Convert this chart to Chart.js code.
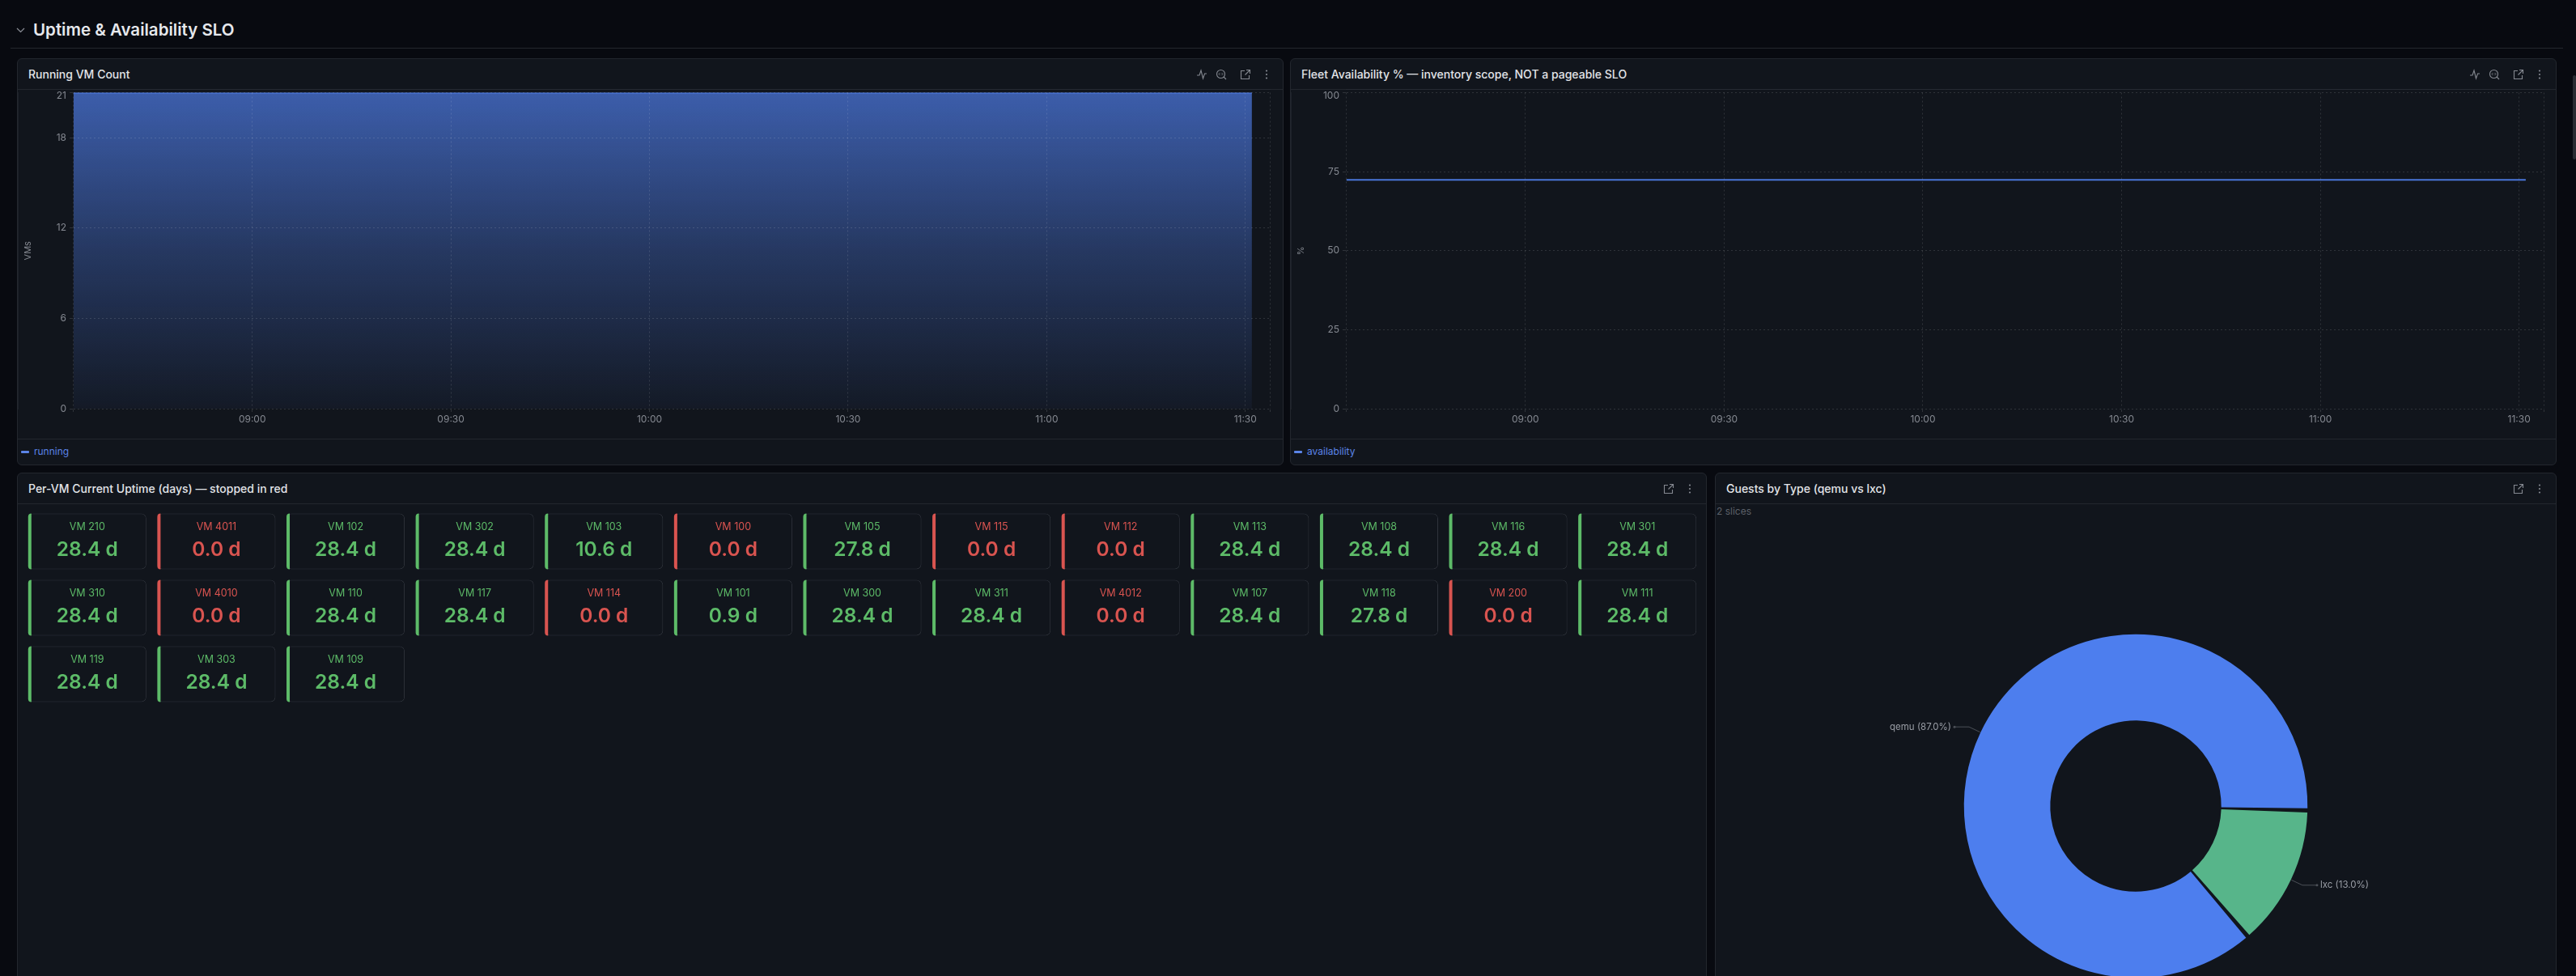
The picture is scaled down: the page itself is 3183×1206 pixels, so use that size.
<!DOCTYPE html>
<html>
<head>
<meta charset="utf-8">
<title>Uptime & Availability SLO</title>
<script src="https://cdn.jsdelivr.net/npm/chart.js@4/dist/chart.umd.min.js"></script>
<style>
  html, body { margin: 0; width: 3183px; height: 1206px; overflow: hidden; background: #080a10; font-family: Inter, sans-serif; }
  .section-title { position: absolute; left: 41px; top: 24px; font-size: 20.5px; line-height: 26px; font-weight: 600; color: #e6e8ec; }
  .chevron { position: absolute; left: 20px; top: 32px; }
  .section-line { position: absolute; left: 13px; top: 59px; width: 3154px; height: 1px; background: #24272d; }
  .scrollbar { position: absolute; left: 3179px; top: 93px; width: 4px; height: 104px; background: #2a2d33; border-radius: 2px; }
  .panel { position: absolute; box-sizing: border-box; background: #11151c; border: 1px solid #23272e; border-radius: 6px; }
  .panel-header { position: absolute; left: 0; right: 0; top: 0; height: 37px; border-bottom: 1px solid #23272e; }
  .panel-title { position: absolute; left: 13px; top: 0; line-height: 37px; font-size: 14px; font-weight: 500; color: #e2e4e8; white-space: nowrap; }
  .panel-icon { position: absolute; top: 12px; width: 14px; height: 14px; }
  .legend-row { position: absolute; left: 0; right: 0; bottom: 0; height: 31px; border-top: 1px solid #23272e; }
  .legend-dash { position: absolute; left: 4px; top: 14px; width: 10px; height: 3px; border-radius: 1px; background: #5b84e8; }
  .legend-text { position: absolute; left: 20px; top: 0; line-height: 30px; font-size: 12px; color: #5b84e8; }
  .slice-count { position: absolute; left: 1px; top: 38px; line-height: 18px; font-size: 12px; color: #5c6068; }
  .chart-box { position: absolute; }
</style>
</head>
<body>
<svg class="chevron" width="11" height="10" viewBox="0 0 11 10"><path d="M1 3 L5.5 7.5 L10 3" fill="none" stroke="#8b8f97" stroke-width="1.2"/></svg>
<div class="section-title">Uptime &amp; Availability SLO</div>
<div class="section-line"></div>
<div class="scrollbar"></div>

<div class="panel" style="left:21px;top:72px;width:1565px;height:503px">
  <div class="panel-header"><div class="panel-title">Running VM Count</div><span data-icons="4"></span></div>
  <div class="legend-row"><div class="legend-dash"></div><div class="legend-text">running</div></div>
</div>
<div class="panel" style="left:1594px;top:72px;width:1565px;height:503px">
  <div class="panel-header"><div class="panel-title">Fleet Availability % — inventory scope, NOT a pageable SLO</div><span data-icons="4"></span></div>
  <div class="legend-row"><div class="legend-dash"></div><div class="legend-text">availability</div></div>
</div>
<div class="panel" style="left:21px;top:584px;width:2088px;height:760px">
  <div class="panel-header"><div class="panel-title">Per-VM Current Uptime (days) — stopped in red</div><span data-icons="2"></span></div>
</div>
<div class="panel" style="left:2119px;top:584px;width:1040px;height:800px">
  <div class="panel-header"><div class="panel-title">Guests by Type (qemu vs lxc)</div><span data-icons="2"></span></div>
  <div class="slice-count">2 slices</div>
</div>

<div class="chart-box" style="left:22px;top:110px;width:1563px;height:434px"><canvas id="runningChart"></canvas></div>
<div class="chart-box" style="left:1595px;top:110px;width:1563px;height:434px"><canvas id="availabilityChart"></canvas></div>
<div class="chart-box" style="left:28px;top:628px;width:2075px;height:246px"><canvas id="uptimeChart"></canvas></div>
<div class="chart-box" style="left:2120px;top:622px;width:1038px;height:748px"><canvas id="guestsChart"></canvas></div>

<script>
// Datos
const sampleTimes = ['08:33', '09:00', '09:30', '10:00', '10:30', '11:00', '11:30', '11:31'];
const runningVMs = [21, 21, 21, 21, 21, 21, 21, 21];
const availabilityPct = [72.4, 72.4, 72.4, 72.4, 72.4, 72.4, 72.4, 72.4];
const timeTicks = ['09:00', '09:30', '10:00', '10:30', '11:00', '11:30'];
const runningTicks = [0, 6, 12, 18, 21];
const availabilityTicks = [0, 25, 50, 75, 100];

const vmNames = [
  'VM 210', 'VM 4011', 'VM 102', 'VM 302', 'VM 103', 'VM 100', 'VM 105', 'VM 115', 'VM 112', 'VM 113', 'VM 108', 'VM 116', 'VM 301',
  'VM 310', 'VM 4010', 'VM 110', 'VM 117', 'VM 114', 'VM 101', 'VM 300', 'VM 311', 'VM 4012', 'VM 107', 'VM 118', 'VM 200', 'VM 111',
  'VM 119', 'VM 303', 'VM 109'
];
const vmUptimeDays = [
  28.4, 0.0, 28.4, 28.4, 10.6, 0.0, 27.8, 0.0, 0.0, 28.4, 28.4, 28.4, 28.4,
  28.4, 0.0, 28.4, 28.4, 0.0, 0.9, 28.4, 28.4, 0.0, 28.4, 27.8, 0.0, 28.4,
  28.4, 28.4, 28.4
];

const guestTypes = ['lxc', 'qemu'];
const guestShares = [13.0, 87.0];

const COLORS = {
  panel: '#11151c',
  axis: '#2a2e36',
  grid: 'rgba(255,255,255,0.13)',
  tick: '#858991',
  blue: '#4f7de8',
  lineDim: '#4a76d8',
  green: '#5dbb68',
  red: '#d95450',
  cardBorder: '#30343c',
  donutBlue: '#4d7eee',
  donutGreen: '#57b58a',
  leader: '#4c5058',
  leaderText: '#9a9ea6'
};
const FONT = 'Inter, sans-serif';
const COLS_PER_ROW = 13;

Chart.defaults.font.family = FONT;
Chart.defaults.animation = false;

const toMinutes = t => {
  const [h, m] = t.split(':').map(Number);
  return h * 60 + m;
};
const toClock = min => {
  const h = Math.floor(min / 60);
  const m = min % 60;
  return String(h).padStart(2, '0') + ':' + String(m).padStart(2, '0');
};

// Iconos de la cabecera de cada panel
const ICONS = [
  '<path d="M1 8 L4 8 L6 2 L8.5 12 L10.5 6 L13 6" fill="none" stroke="#858991" stroke-width="1.1"/>',
  '<circle cx="6.5" cy="6.5" r="5" fill="none" stroke="#858991" stroke-width="1.1"/><path d="M10 10 L13 13" stroke="#858991" stroke-width="1.1"/><path d="M5.5 5 L4 6.5 L5.5 8 M7.5 5 L9 6.5 L7.5 8" fill="none" stroke="#858991" stroke-width="0.9"/>',
  '<path d="M6 2.5 H1.5 V12.5 H11.5 V8 M8 1.5 H12.5 V6 M12.5 1.5 L6.5 7.5" fill="none" stroke="#858991" stroke-width="1.1"/>',
  '<circle cx="7" cy="2.5" r="1.1" fill="#858991"/><circle cx="7" cy="7" r="1.1" fill="#858991"/><circle cx="7" cy="11.5" r="1.1" fill="#858991"/>'
];
const ICON_OFFSETS = [107, 83, 53, 27];
document.querySelectorAll('[data-icons]').forEach(slot => {
  const count = Number(slot.dataset.icons);
  const header = slot.parentElement;
  ICONS.slice(-count).forEach((markup, i) => {
    const svg = document.createElementNS('http://www.w3.org/2000/svg', 'svg');
    svg.setAttribute('class', 'panel-icon');
    svg.setAttribute('viewBox', '0 0 14 14');
    svg.style.right = (ICON_OFFSETS.slice(-count)[i] - 14) + 'px';
    svg.innerHTML = markup;
    header.appendChild(svg);
  });
});

/**
 * Opciones comunes de los dos graficos de serie temporal.
 * Fija el ancho de los ejes para que el area de trazado no dependa de las etiquetas.
 */
function timeSeriesOptions(yTicks, yTitle, rightPadding) {
  const xMin = toMinutes(sampleTimes[0]) - 0.1;
  const xMax = toMinutes('11:33') + 0.7;
  const yTop = yTicks[yTicks.length - 1];
  return {
    responsive: true,
    maintainAspectRatio: false,
    layout: { padding: { top: 4.5, right: rightPadding, bottom: 0, left: 0 } },
    plugins: { legend: { display: false }, tooltip: { enabled: false } },
    elements: { point: { radius: 0 } },
    scales: {
      x: {
        type: 'linear',
        min: xMin,
        max: xMax,
        afterBuildTicks: axis => {
          axis.ticks = [xMin, ...timeTicks.map(toMinutes), xMax].map(value => ({ value }));
        },
        afterFit: axis => {
          axis.height = 39;
          axis.paddingLeft = 0;
          axis.paddingRight = 0;
        },
        grid: { color: COLORS.grid, z: 1, tickLength: 4 },
        border: { color: COLORS.axis, dash: [2, 3] },
        ticks: {
          autoSkip: false,
          maxRotation: 0,
          padding: 2,
          color: COLORS.tick,
          font: { size: 12 },
          callback: value => (Number.isInteger(value) ? toClock(value) : '')
        }
      },
      y: {
        min: 0,
        max: yTop,
        afterBuildTicks: axis => {
          axis.ticks = yTicks.map(value => ({ value }));
        },
        afterFit: axis => {
          axis.width = 68;
          axis.paddingTop = 0;
          axis.paddingBottom = 0;
        },
        title: { display: true, text: yTitle, color: COLORS.tick, font: { size: 11 }, padding: { top: 6, bottom: 0 } },
        grid: { color: COLORS.grid, z: 1, tickLength: 4 },
        border: { color: COLORS.axis, dash: [2, 3] },
        ticks: {
          padding: 4,
          color: COLORS.tick,
          // La etiqueta superior queda metida dentro del panel, un poco por debajo de su linea
          font: ctx => (ctx.tick && ctx.tick.value === yTop ? { size: 12, lineHeight: '8px' } : { size: 12 }),
          callback: value => (value === yTop ? ['', String(value)] : String(value))
        }
      }
    }
  };
}

const points = series => series.map((y, i) => ({ x: toMinutes(sampleTimes[i]), y }));

new Chart(document.getElementById('runningChart'), {
  type: 'line',
  data: {
    datasets: [{
      label: 'running',
      data: points(runningVMs),
      borderColor: COLORS.blue,
      borderWidth: 2,
      fill: 'origin',
      backgroundColor: ctx => {
        const area = ctx.chart.chartArea;
        if (!area) return 'transparent';
        const gradient = ctx.chart.ctx.createLinearGradient(0, area.top, 0, area.bottom);
        gradient.addColorStop(0, 'rgba(79,125,232,0.70)');
        gradient.addColorStop(0.5, 'rgba(79,125,232,0.34)');
        gradient.addColorStop(1, 'rgba(79,125,232,0.05)');
        return gradient;
      }
    }]
  },
  options: timeSeriesOptions(runningTicks, 'VMs', 16)
});

new Chart(document.getElementById('availabilityChart'), {
  type: 'line',
  data: {
    datasets: [{
      label: 'availability',
      data: points(availabilityPct),
      borderColor: COLORS.lineDim,
      borderWidth: 2,
      fill: false
    }]
  },
  options: timeSeriesOptions(availabilityTicks, '%', 15)
});

// Tarjetas de uptime: cada una es una barra flotante sobre una rejilla columna/fila
const statusColor = days => (days > 0 ? COLORS.green : COLORS.red);
const rowCount = Math.ceil(vmNames.length / COLS_PER_ROW);
const columnLabels = vmNames.slice(0, COLS_PER_ROW).map((_, i) => String(i + 1));
const CARD_INSET = 0.08;
const cardRows = [];
for (let row = 0; row < rowCount; row++) {
  const names = vmNames.slice(row * COLS_PER_ROW, (row + 1) * COLS_PER_ROW);
  cardRows.push({
    label: 'fila ' + (row + 1),
    data: names.map(() => [row + CARD_INSET, row + 1 - CARD_INSET]),
    backgroundColor: COLORS.panel,
    borderColor: COLORS.cardBorder,
    borderWidth: 1,
    borderSkipped: false,
    borderRadius: 6,
    barPercentage: 0.915,
    categoryPercentage: 1,
    grouped: false
  });
}

const cardContentPlugin = {
  id: 'cardContent',
  afterDatasetsDraw(chart) {
    const { ctx } = chart;
    chart.data.datasets.forEach((_, row) => {
      chart.getDatasetMeta(row).data.forEach((bar, col) => {
        const index = row * COLS_PER_ROW + col;
        const days = vmUptimeDays[index];
        const color = statusColor(days);
        const left = bar.x - bar.width / 2;
        const top = Math.min(bar.y, bar.base);
        const height = Math.abs(bar.base - bar.y);
        ctx.save();
        ctx.fillStyle = color;
        ctx.beginPath();
        ctx.roundRect(left, top, 4, height, [4, 0, 0, 4]);
        ctx.fill();
        ctx.textAlign = 'center';
        ctx.textBaseline = 'middle';
        ctx.font = '400 12.5px ' + FONT;
        ctx.fillText(vmNames[index], bar.x, top + 17);
        ctx.font = '600 24.5px ' + FONT;
        ctx.fillText(days.toFixed(1) + ' d', bar.x, top + 45.5);
        ctx.restore();
      });
    });
  }
};

new Chart(document.getElementById('uptimeChart'), {
  type: 'bar',
  data: { labels: columnLabels, datasets: cardRows },
  options: {
    responsive: true,
    maintainAspectRatio: false,
    layout: { padding: 0 },
    plugins: { legend: { display: false }, tooltip: { enabled: false } },
    scales: {
      x: { display: false },
      y: { display: false, reverse: true, min: 0, max: rowCount }
    }
  },
  plugins: [cardContentPlugin]
});

// Etiquetas con linea guia del donut
const sliceLabelPlugin = {
  id: 'sliceLabels',
  afterDatasetsDraw(chart) {
    const { ctx } = chart;
    chart.getDatasetMeta(0).data.forEach((arc, i) => {
      const angle = (arc.startAngle + arc.endAngle) / 2;
      const radius = arc.outerRadius + 2;
      const side = Math.cos(angle) >= 0 ? 1 : -1;
      const startX = arc.x + Math.cos(angle) * radius;
      const startY = arc.y + Math.sin(angle) * radius;
      const elbowX = arc.x + Math.cos(angle) * (radius + 15);
      const elbowY = arc.y + Math.sin(angle) * (radius + 15);
      const endX = elbowX + side * 18;
      ctx.save();
      ctx.strokeStyle = COLORS.leader;
      ctx.fillStyle = COLORS.leader;
      ctx.lineWidth = 1;
      ctx.beginPath();
      ctx.moveTo(startX, startY);
      ctx.lineTo(elbowX, elbowY);
      ctx.lineTo(endX, elbowY);
      ctx.stroke();
      ctx.beginPath();
      ctx.arc(endX, elbowY, 1.5, 0, Math.PI * 2);
      ctx.fill();
      ctx.fillStyle = COLORS.leaderText;
      ctx.font = '400 11.5px ' + FONT;
      ctx.textBaseline = 'middle';
      ctx.textAlign = side > 0 ? 'left' : 'right';
      ctx.fillText(`${guestTypes[i]} (${guestShares[i].toFixed(1)}%)`, endX + side * 4, elbowY);
      ctx.restore();
    });
  }
};

new Chart(document.getElementById('guestsChart'), {
  type: 'doughnut',
  data: {
    labels: guestTypes,
    datasets: [{
      data: guestShares,
      backgroundColor: [COLORS.donutGreen, COLORS.donutBlue],
      borderWidth: 0,
      spacing: 2.5
    }]
  },
  options: {
    responsive: true,
    maintainAspectRatio: false,
    rotation: 92,
    radius: 211,
    cutout: '49.5%',
    plugins: { legend: { display: false }, tooltip: { enabled: false } }
  },
  plugins: [sliceLabelPlugin]
});
</script>
</body>
</html>
